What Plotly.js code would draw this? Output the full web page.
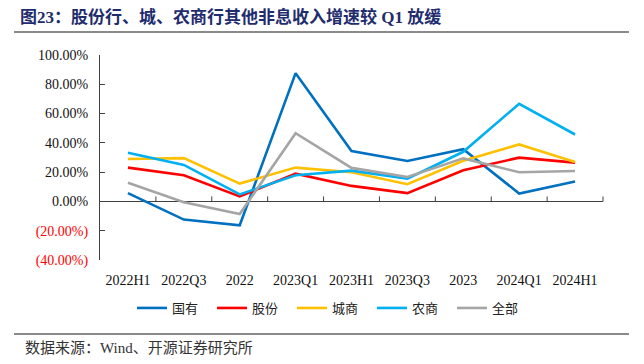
<!DOCTYPE html>
<html>
<head>
<meta charset="utf-8">
<script src="https://cdn.plot.ly/plotly-3.0.1.min.js"></script>
<style>
html,body{margin:0;padding:0;background:#fff;}
#wrap{position:relative;width:644px;height:364px;}
#chart{width:644px;height:364px;}
.sep{position:absolute;left:14px;width:615px;height:2px;background:#8A8A8A;pointer-events:none;}
</style>
</head>
<body>
<div id="wrap">
<div id="chart"></div>
<div class="sep" style="top:31px"></div>
<div class="sep" style="top:333px"></div>
</div>
<script>
const categories = ["2022H1","2022Q3","2022","2023Q1","2023H1","2023Q3","2023","2024Q1","2024H1"];
const seriesNames = ["国有","股份","城商","农商","全部"];
const guoyou  = [5.7, -12.4, -16.3, 87.6, 34.4, 27.6, 35.7, 5.4, 13.6];
const gufen   = [23.1, 17.9, 3.4, 19.0, 10.6, 5.7, 21.3, 29.9, 26.5];
const chengshang = [29.0, 29.6, 12.2, 23.1, 19.9, 11.8, 27.8, 38.9, 26.9];
const nongshang  = [33.3, 24.9, 4.8, 17.9, 21.0, 15.6, 33.9, 66.7, 45.7];
const quanbu  = [12.7, -0.5, -8.6, 46.6, 22.9, 16.7, 29.4, 19.9, 20.8];
const yTickVals = [-40, -20, 0, 20, 40, 60, 80, 100];
const titleText = "图23：股份行、城、农商行其他非息收入增速较 Q1 放缓";
const sourceText = "数据来源：Wind、开源证券研究所";

const colors = ["#0070C0","#FF0000","#FFC000","#00B0F0","#A5A5A5"];
const seriesData = [guoyou, gufen, chengshang, nongshang, quanbu];

const traces = seriesData.map((vals, i) => ({
  type: "scatter",
  mode: "lines",
  name: seriesNames[i],
  x: categories,
  y: vals,
  line: {color: colors[i], width: 2.6},
  hoverinfo: "skip"
}));

function fmt(v){
  const s = Math.abs(v).toFixed(2) + "%";
  return v < 0 ? '<span style="color:#FF0000">(' + s + ')</span>' : s;
}
const yTickText = yTickVals.map(fmt);

const serif = "Liberation Serif, Times New Roman, Noto Sans CJK SC, serif";
const cjk = "Liberation Serif, Noto Sans CJK SC, sans-serif";

const PLOT_H = 205.8, PLOT_W = 503.5;
const tickLenData = 5 * 140 / PLOT_H;

const tickShapes = [];
for (let i = 1; i <= categories.length; i++) {
  tickShapes.push({
    type: "line", xref: "paper", yref: "y",
    x0: i / categories.length, x1: i / categories.length, y0: 0, y1: tickLenData,
    line: {color: "#404040", width: 1}
  });
}

const layout = {
  width: 644, height: 364,
  margin: {l: 99.5, r: 41, t: 54.5, b: 103.7},
  paper_bgcolor: "rgba(0,0,0,0)", plot_bgcolor: "rgba(0,0,0,0)",
  showlegend: true,
  title: {
    text: "<b>" + titleText + "</b>",
    font: {family: cjk, size: 17, color: "#1F2D6E"},
    x: 20/644, xanchor: "left", xref: "container",
    y: 1 - 17/364, yanchor: "middle", yref: "container"
  },
  xaxis: {
    type: "category",
    showline: false, showgrid: false, zeroline: false,
    ticks: "",
    tickfont: {family: serif, size: 14, color: "#111"},
    ticklabelstandoff: 10,
    range: [-0.5, categories.length - 0.5]
  },
  yaxis: {
    range: [-40, 100],
    tickvals: yTickVals, ticktext: yTickText,
    showline: true, linecolor: "#404040", linewidth: 1,
    ticks: "inside", ticklen: 5, tickcolor: "#404040",
    showgrid: false,
    zeroline: true, zerolinecolor: "#404040", zerolinewidth: 1,
    tickfont: {family: serif, size: 14, color: "#111"},
    ticklabelstandoff: 8
  },
  legend: {
    orientation: "h",
    xref: "container", yref: "container",
    x: 332/644, xanchor: "center",
    y: 1 - 308/364, yanchor: "middle",
    font: {family: "Noto Sans CJK SC, sans-serif", size: 13, color: "#222"},
    entrywidth: 35, entrywidthmode: "pixels",
    bgcolor: "rgba(0,0,0,0)"
  },
  shapes: tickShapes,
  annotations: [{
    text: sourceText, showarrow: false,
    xref: "paper", yref: "paper",
    x: -77.5/PLOT_W, xanchor: "left",
    y: -(349-260.3)/PLOT_H, yanchor: "middle",
    font: {family: cjk, size: 15, color: "#333"}
  }]
};

Plotly.newPlot("chart", traces, layout, {displayModeBar: false, staticPlot: true});
</script>
</body>
</html>
